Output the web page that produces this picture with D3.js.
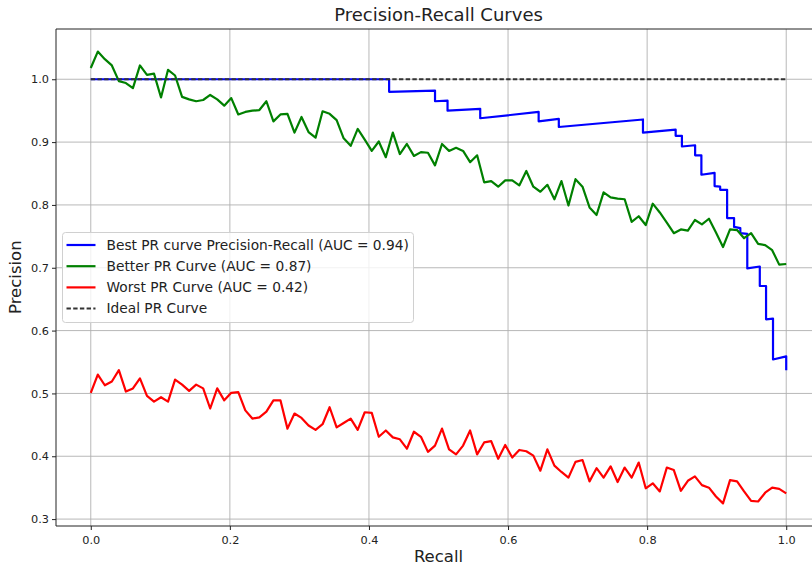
<!DOCTYPE html>
<html>
<head>
<meta charset="utf-8">
<script src="https://cdn.jsdelivr.net/npm/d3@7"></script>
<style>
    html, body { margin: 0; padding: 0; background: #fff; }
    svg { display: block; font-family: "DejaVu Sans", sans-serif; }
</style>
</head>
<body>
<div id="chart"></div>
<script>
// ── Data ────────────────────────────────────────────────

const xTicks = [0, 0.2, 0.4, 0.6, 0.8, 1.0];
const yTicks = [0.3, 0.4, 0.5, 0.6, 0.7, 0.8, 0.9, 1.0];

// sample positions of the noisy curves (100 evenly spaced recall values)
const recallSteps = d3.range(100).map(i => i / 99);

const bestRecall = [0, 0.429, 0.429, 0.495, 0.495, 0.513, 0.513, 0.560, 0.560, 0.644, 0.644,
    0.673, 0.673, 0.794, 0.794, 0.841, 0.841, 0.850, 0.850, 0.869, 0.869, 0.878, 0.878,
    0.897, 0.897, 0.905, 0.905, 0.915, 0.915, 0.925, 0.925, 0.934, 0.934, 0.944, 0.944,
    0.962, 0.962, 0.971, 0.971, 0.981, 0.981, 1.0, 1.0];
const bestPrecision = [1.0, 1.0, 0.980, 0.982, 0.965, 0.966, 0.950, 0.953, 0.938, 0.948, 0.933,
    0.937, 0.924, 0.936, 0.915, 0.920, 0.910, 0.910, 0.893, 0.895, 0.879, 0.879, 0.848,
    0.851, 0.830, 0.829, 0.824, 0.824, 0.779, 0.779, 0.765, 0.763, 0.755, 0.754, 0.699,
    0.702, 0.671, 0.671, 0.618, 0.619, 0.554, 0.559, 0.537];

const betterPrecision = [
    1.018, 1.044, 1.032, 1.022, 0.997, 0.994, 0.986, 1.022, 1.007, 1.009,
    0.971, 1.015, 1.006, 0.972, 0.968, 0.965, 0.967, 0.975, 0.968, 0.958,
    0.970, 0.944, 0.948, 0.950, 0.951, 0.965, 0.933, 0.944, 0.945, 0.915,
    0.940, 0.916, 0.907, 0.949, 0.945, 0.935, 0.906, 0.894, 0.921, 0.904,
    0.886, 0.901, 0.876, 0.915, 0.881, 0.897, 0.878, 0.884, 0.883, 0.863,
    0.897, 0.886, 0.891, 0.886, 0.868, 0.879, 0.836, 0.838, 0.829, 0.839,
    0.839, 0.831, 0.854, 0.829, 0.821, 0.832, 0.809, 0.838, 0.799, 0.841,
    0.829, 0.796, 0.784, 0.820, 0.812, 0.810, 0.809, 0.773, 0.782, 0.768,
    0.802, 0.788, 0.772, 0.755, 0.761, 0.759, 0.776, 0.769, 0.778, 0.756,
    0.733, 0.761, 0.760, 0.747, 0.755, 0.738, 0.736, 0.728, 0.705, 0.706];

const worstPrecision = [
    0.501, 0.530, 0.513, 0.519, 0.537, 0.503, 0.508, 0.524, 0.496, 0.487,
    0.494, 0.487, 0.522, 0.514, 0.504, 0.514, 0.508, 0.476, 0.508, 0.489,
    0.501, 0.502, 0.473, 0.460, 0.462, 0.471, 0.489, 0.489, 0.444, 0.468,
    0.461, 0.449, 0.442, 0.451, 0.478, 0.446, 0.453, 0.460, 0.442, 0.470,
    0.469, 0.431, 0.441, 0.430, 0.427, 0.412, 0.439, 0.431, 0.407, 0.417,
    0.444, 0.411, 0.403, 0.417, 0.441, 0.403, 0.422, 0.424, 0.396, 0.418,
    0.398, 0.410, 0.408, 0.401, 0.377, 0.411, 0.385, 0.375, 0.366, 0.391,
    0.394, 0.360, 0.381, 0.366, 0.384, 0.359, 0.382, 0.366, 0.390, 0.349,
    0.357, 0.344, 0.382, 0.378, 0.345, 0.361, 0.368, 0.354, 0.350, 0.336,
    0.325, 0.362, 0.360, 0.344, 0.329, 0.328, 0.342, 0.350, 0.348, 0.341];

const idealRecall = [0, 1];
const idealPrecision = [1, 1];

const seriesLabels = [
    'Best PR curve Precision-Recall (AUC = 0.94)',
    'Better PR Curve (AUC = 0.87)',
    'Worst PR Curve (AUC = 0.42)',
    'Ideal PR Curve'
];

// ── Layout ──────────────────────────────────────────────

const W = 812, H = 567;
const margin = { left: 56, top: 29, right: -9, bottom: 41 };
const plotW = W - margin.left - margin.right;
const plotH = H - margin.top - margin.bottom;

const x = d3.scaleLinear().domain([-0.05, 1.05]).range([0, plotW]);
const y = d3.scaleLinear().domain([0.289, 1.080]).range([plotH, 0]);

const svg = d3.select('#chart')
    .append('svg')
    .attr('width', W)
    .attr('height', H);

svg.append('defs').append('clipPath')
    .attr('id', 'plot-clip')
    .append('rect')
    .attr('width', plotW)
    .attr('height', plotH);

const g = svg.append('g')
    .attr('transform', `translate(${margin.left},${margin.top})`);

// Grid
g.append('g')
    .selectAll('line')
    .data(xTicks)
    .enter()
    .append('line')
    .attr('x1', d => x(d)).attr('x2', d => x(d))
    .attr('y1', 0).attr('y2', plotH)
    .attr('stroke', '#b0b0b0')
    .attr('stroke-width', 0.9);

g.append('g')
    .selectAll('line')
    .data(yTicks)
    .enter()
    .append('line')
    .attr('x1', 0).attr('x2', plotW)
    .attr('y1', d => y(d)).attr('y2', d => y(d))
    .attr('stroke', '#b0b0b0')
    .attr('stroke-width', 0.9);

// Axes
const xAxis = g.append('g')
    .attr('transform', `translate(0,${plotH})`)
    .call(d3.axisBottom(x).tickValues(xTicks).tickFormat(d3.format('.1f')).tickSizeOuter(0).tickSize(4));
const yAxis = g.append('g')
    .call(d3.axisLeft(y).tickValues(yTicks).tickFormat(d3.format('.1f')).tickSizeOuter(0).tickSize(4));

[xAxis, yAxis].forEach(ax => {
    ax.select('.domain').remove();
    ax.selectAll('line').attr('stroke', '#222');
    ax.selectAll('text')
        .style('font-family', '"DejaVu Sans", sans-serif')
        .style('font-size', '11.3px')
        .attr('fill', '#222');
});
xAxis.selectAll('text').attr('dy', '0.95em');

// Lines
const lineGen = d3.line().x(d => x(d[0])).y(d => y(d[1]));
const lines = g.append('g').attr('clip-path', 'url(#plot-clip)');

const curves = [
    { pts: d3.zip(bestRecall, bestPrecision), color: '#0000ff', width: 2.2, dash: null },
    { pts: d3.zip(recallSteps, betterPrecision), color: '#008000', width: 2.2, dash: null },
    { pts: d3.zip(recallSteps, worstPrecision), color: '#ff0000', width: 2.2, dash: null },
    { pts: d3.zip(idealRecall, idealPrecision), color: '#333', width: 2, dash: '4.4,2.3' }
];

curves.forEach(c => {
    lines.append('path')
        .attr('d', lineGen(c.pts))
        .attr('fill', 'none')
        .attr('stroke', c.color)
        .attr('stroke-width', c.width)
        .attr('stroke-linejoin', 'round')
        .attr('stroke-dasharray', c.dash);
});

// Spines (left, bottom, top — right one falls outside the picture)
g.append('line').attr('x1', 0).attr('x2', 0).attr('y1', 0).attr('y2', plotH)
    .attr('stroke', '#222').attr('stroke-width', 1);
g.append('line').attr('x1', 0).attr('x2', plotW).attr('y1', plotH).attr('y2', plotH)
    .attr('stroke', '#222').attr('stroke-width', 1);
g.append('line').attr('x1', 0).attr('x2', plotW).attr('y1', 0).attr('y2', 0)
    .attr('stroke', '#222').attr('stroke-width', 1);

// Legend
const legend = svg.append('g').attr('transform', 'translate(62.5,232.5)');
legend.append('rect')
    .attr('width', 351)
    .attr('height', 90)
    .attr('rx', 3)
    .attr('fill', 'rgba(255,255,255,0.8)')
    .attr('stroke', '#d0d0d0')
    .attr('stroke-width', 1);

curves.forEach((c, i) => {
    const row = legend.append('g').attr('transform', `translate(0,${12.5 + i * 21.2})`);
    row.append('line')
        .attr('x1', 4).attr('x2', 33)
        .attr('stroke', c.color)
        .attr('stroke-width', c.width)
        .attr('stroke-dasharray', c.dash);
    row.append('text')
        .attr('x', 44)
        .attr('dy', '0.35em')
        .style('font-size', '13.75px')
        .attr('fill', '#222')
        .text(seriesLabels[i]);
});

// Titles
svg.append('text')
    .attr('x', margin.left + x(0.5))
    .attr('y', 21)
    .attr('text-anchor', 'middle')
    .style('font-size', '18px')
    .attr('fill', '#222')
    .text('Precision-Recall Curves');

svg.append('text')
    .attr('x', margin.left + x(0.5))
    .attr('y', 562)
    .attr('text-anchor', 'middle')
    .style('font-size', '16.5px')
    .attr('fill', '#222')
    .text('Recall');

svg.append('text')
    .attr('transform', `translate(21,${margin.top + y(0.685)}) rotate(-90)`)
    .attr('text-anchor', 'middle')
    .style('font-size', '16.5px')
    .attr('fill', '#222')
    .text('Precision');
</script>
</body>
</html>
